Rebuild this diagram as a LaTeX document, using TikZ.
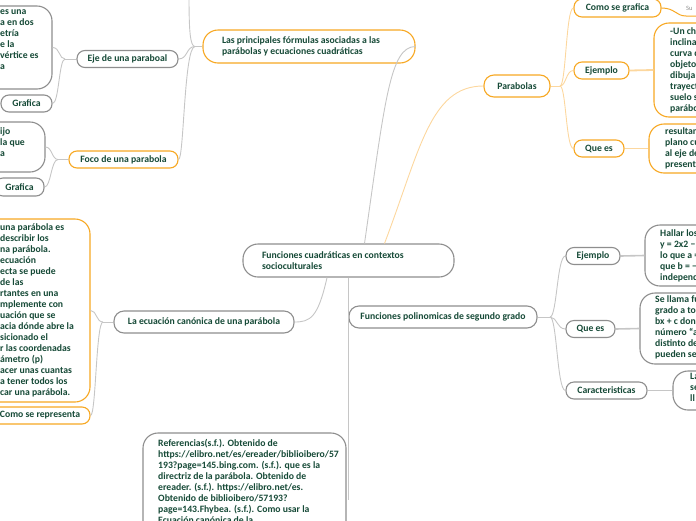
\documentclass[tikz,border=0pt]{standalone}
\usepackage{fontspec}
\setmainfont{Carlito}
\definecolor{txt}{HTML}{164A37}
\definecolor{obord}{HTML}{F7A823}
\definecolor{gbord}{HTML}{8E8E8E}
\definecolor{gline}{HTML}{C6C6C6}
\definecolor{oline}{HTML}{FCD79E}
\newcommand\mfont{\fontsize{9.7}{11}\selectfont\bfseries}
\begin{document}
\begin{tikzpicture}[x=1pt,y=-1pt,
  box/.style={draw, line width=1.1pt, fill=white, text=txt, font=\mfont, inner sep=0pt, align=flush left},
  ob/.style={box, draw=obord},
  gb/.style={box, draw=gbord},
  sm/.style={rounded corners=8pt, minimum height=17pt},
  lg/.style={rounded corners=15pt},
  tx/.style={text=txt, font=\mfont, align=flush left, inner sep=0pt, anchor=north west},
  gl/.style={draw=gline, line width=0.9pt},
  gl2/.style={draw=gline, line width=1.6pt},
  ol/.style={draw=oline, line width=0.9pt},
  ol2/.style={draw=oline, line width=1.8pt}]
\useasboundingbox (0,0) rectangle (696,520);

\coordinate (bp1) at (195,46.5);
\coordinate (bp2) at (65,59);
\coordinate (bp3) at (58,159.5);
\coordinate (bp4) at (103,322);
\coordinate (bp5) at (550,317);
\coordinate (bp6) at (560,86);
\coordinate (offtop) at (189,-5);
\coordinate (suend) at (700,16);

% ---------- boxes ----------
\node[gb, lg, minimum width=211pt, minimum height=33pt, text width=173pt] (central) at (348.5,260.5)
  {Funciones cuadráticas en contextos\\socioculturales};
\node[ob, lg, minimum width=212pt, minimum height=33pt, text width=174pt] (princ) at (309,46.5)
  {Las principales fórmulas asociadas a las\\parábolas y ecuaciones cuadráticas};
\node[ob, rounded corners=10pt, minimum width=66pt, minimum height=22pt, align=center] (parab) at (517,86) {Parabolas};
\node[ob, sm, minimum width=87pt, minimum height=18pt, align=center] (comog) at (617.5,8) {Como se grafica};
\node[ob, sm, minimum width=55pt, align=center] (ejem1) at (601.5,70.5) {Ejemplo};
\node[ob, sm, minimum width=50pt, align=center] (quees1) at (599,148.5) {Que es};
\node[ob, lg, minimum width=126pt, minimum height=94pt] (ejem1t) at (717,70) {};
\node[ob, lg, minimum width=132pt, minimum height=49pt] (quees1t) at (715,148.5) {};
\node[inner sep=0pt, anchor=west, text=gbord, font=\fontsize{6.5}{7}\selectfont] (su) at (686,8) {Su};

\node[gb, rounded corners=10pt, minimum width=188pt, minimum height=22pt, align=center] (poly) at (443,317)
  {Funciones polinomicas de segundo grado};
\node[gb, sm, minimum width=54pt, align=center] (ejem2) at (593,256) {Ejemplo};
\node[gb, sm, minimum width=49pt, align=center] (quees2) at (590.5,329) {Que es};
\node[gb, sm, minimum width=81pt, align=center] (carac) at (606.5,390.5) {Caracteristicas};
\node[gb, lg, minimum width=150pt, minimum height=61pt] (ejem2t) at (720,255.5) {};
\node[gb, lg, minimum width=160pt, minimum height=71pt] (quees2t) at (720,328.5) {};
\node[gb, lg, minimum width=154pt, minimum height=39pt] (carac2t) at (750,390.5) {};

\node[gb, sm, minimum width=101pt, align=center] (ejeb) at (127.5,59) {Eje de una paraboal};
\node[gb, lg, minimum width=164pt, minimum height=83pt] (ejet) at (-30,47.5) {};
\node[gb, sm, minimum width=51pt, align=center] (graf1) at (26.5,103.5) {Grafica};
\node[ob, sm, minimum width=109pt, align=center] (foco) at (123.5,159.5) {Foco de una parabola};
\node[gb, lg, minimum width=150pt, minimum height=50pt] (focot) at (-30,147) {};
\node[gb, sm, minimum width=49pt, minimum height=18pt, align=center] (graf2) at (19.5,187) {Grafica};

\node[gb, rounded corners=10pt, minimum width=180pt, minimum height=22pt, align=center] (canon) at (204,322)
  {La ecuación canónica de una parábola};
\node[ob, lg, minimum width=220pt, minimum height=183pt] (canont) at (-20,310.5) {};
\node[ob, sm, minimum width=100pt, align=center] (comor) at (40,415.5) {Como se representa};

\node[gb, lg, minimum width=203pt, minimum height=134pt] (ref) at (244.5,500) {};

% ---------- connectors ----------
\draw[gl] ([xshift=16pt]central.north) .. controls (385,100) and (390,46.5) .. (princ.east);
\draw[ol] ([xshift=36pt]central.north) .. controls (420,150) and (430,86) .. (parab.west);
\draw[gl] (princ.west) -- (bp1);
\draw[gl] (bp1) .. controls (186,46.5) and (188,59) .. (ejeb.east);
\draw[gl] (bp1) .. controls (184,46.5) and (184,159.5) .. (foco.east);
\draw[gl] (bp1) .. controls (190,46.5) and (189,30) .. (offtop);
\draw[gl] (ejeb.west) -- (bp2);
\draw[gl] (bp2) .. controls (59,59) and (60,47.5) .. (ejet.east);
\draw[gl] (bp2) .. controls (59,59) and (59,103.5) .. (graf1.east);
\draw[gl] (foco.west) -- (bp3);
\draw[gl] (bp3) .. controls (52,159.5) and (52,147) .. (focot.east);
\draw[gl] (bp3) .. controls (51,159.5) and (51,187) .. (graf2.east);
\draw[gl] ([xshift=-21.5pt]central.south) .. controls (318,318) and (310,322) .. (canon.east);
\draw[gl] (canon.west) -- (bp4);
\draw[gl] (bp4) .. controls (96,322) and (97,310.5) .. (canont.east);
\draw[gl] (bp4) .. controls (96,322) and (96,415.5) .. (comor.east);
\draw[gl] (central.south) -- (central.south |- ref.east);
\draw[gl] (poly.east) -- (bp5);
\draw[gl] (bp5) .. controls (557,317) and (557,256) .. (ejem2.west);
\draw[gl] (bp5) .. controls (557,317) and (557,329) .. (quees2.west);
\draw[gl] (bp5) .. controls (557,317) and (557,390.5) .. (carac.west);
\draw[gl2] (ejem2.east) -- (ejem2t.west);
\draw[gl2] (quees2.east) -- (quees2t.west);
\draw[gl2] (carac.east) -- (carac2t.west);
\draw[ol] (parab.east) -- (bp6);
\draw[ol] (bp6) .. controls (566,86) and (566,8) .. (comog.west);
\draw[ol] (bp6) .. controls (566,86) and (566,70.5) .. (ejem1.west);
\draw[ol] (bp6) .. controls (566,86) and (566,148.5) .. (quees1.west);
\draw[ol2] (ejem1.east) -- (ejem1t.west);
\draw[ol2] (quees1.east) -- (quees1t.west);
\draw[draw=obord, line width=1pt] (comog.east) .. controls (675,8) and (676,16) .. (su.south west |- suend) -- (suend);

% ---------- texts of the clipped boxes ----------
\node[tx] (ejemtx) at (670,27) {-Un cho\\inclina\\curva d\\objeto\\dibuja\\trayect\\suelo s\\parábo};
\node[tx] (queestx) at (665,127) {resultan\\plano cu\\al eje de\\presenta};
\node[tx] (ejem2tx) at (660,229) {Hallar los\\y = 2x2 − 3\\lo que a =\\que b = −3\\independ};
\node[tx] (quees2tx) at (655,295) {Se llama fu\\grado a to\\bx + c don\\número “a\\distinto de\\pueden se};
\node[tx] (carac2tx) at (690,373) {La\\se\\ll};
\node[tx] (ejetx) at (0,10) {es una\\a en dos\\etría\\e la\\vértice es\\a};
\node[tx] (focotx) at (0,127) {ijo\\la que\\a};
\node[tx] (canontx) at (0,223) {una parábola es\\describir los\\na parábola.\\ ecuación\\ecta se puede\\de las\\rtantes en una\\mplemente con\\uación que se\\acia dónde abre la\\sicionado el\\r las coordenadas\\ámetro (p)\\acer unas cuantas\\a tener todos los\\car una parábola.};
\node[tx] (reftx) at (158,439) {Referencias(s.f.). Obtenido de\\https://elibro.net/es/ereader/biblioibero/57\\193?page=145.bing.com. (s.f.). que es la\\directriz de la parábola. Obtenido de\\ereader. (s.f.). https://elibro.net/es.\\Obtenido de biblioibero/57193?\\page=143.Fhybea. (s.f.). Como usar la\\Ecuación canónica de la};
\end{tikzpicture}
\end{document}
